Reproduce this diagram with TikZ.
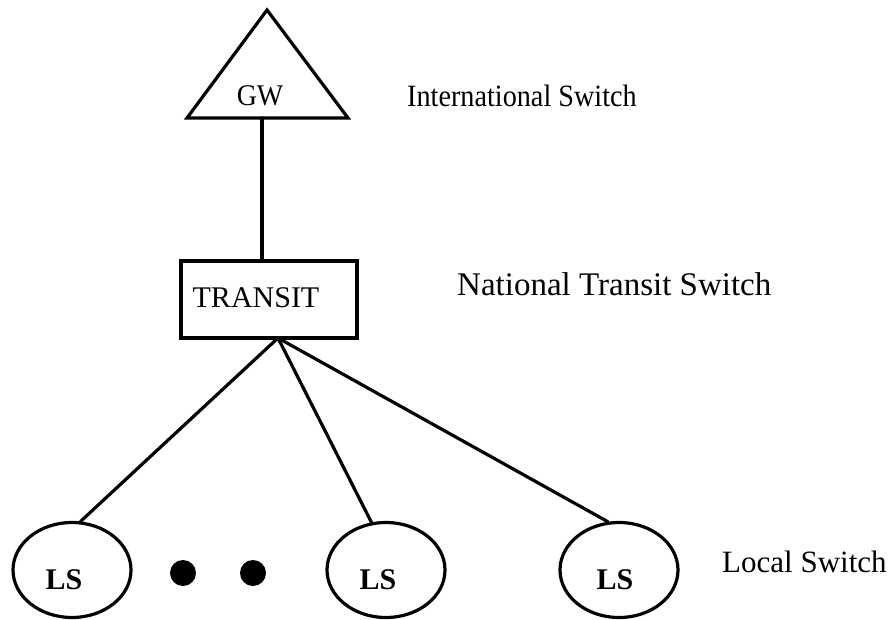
\documentclass[tikz,border=0pt]{standalone}
\usepackage{graphicx}
\usepackage{fontspec}
\setmainfont{Liberation Serif}
\usetikzlibrary{shapes.geometric,calc}
\begin{document}
\begin{tikzpicture}[x=1pt,y=-1pt,
  link/.style={line width=3.2pt,line cap=round},
  outline/.style={draw,line width=3.2pt},
  txt/.style={inner sep=0pt,font=\fontsize{30}{34}\selectfont},
  sidelabel/.style={txt,anchor=west},
  lstxt/.style={inner sep=0pt,font=\fontsize{30}{34}\selectfont\bfseries},
  switchbox/.style={outline,rectangle,minimum width=176pt,minimum height=77pt,inner sep=0pt},
  localsw/.style={outline,ellipse,minimum width=118pt,minimum height=95pt,inner sep=0pt},
  dotmark/.style={circle,fill=black,minimum size=26pt,inner sep=0pt}]
\useasboundingbox (0,0) rectangle (894,620);

% international gateway (triangle)
\coordinate (gwtop) at (267,10);
\coordinate (gwleft) at (187,118);
\coordinate (gwright) at (348,118);
\coordinate (gwbase) at (262,118);
\draw[line width=3.2pt,line join=miter] (gwtop) -- (gwleft) -- (gwright) -- cycle;
\node[txt,font=\fontsize{30}{34}\selectfont] (gw) at (260,96) {\scalebox{0.93}[1]{GW}};

% national transit switch
\node[switchbox] (transit) at (269,299.5) {};
\node[txt] (transittxt) at (256,298) {TRANSIT};
\coordinate (hub) at (278,338);

% local switches
\node[localsw] (ls1) at (72,570) {};
\node[localsw] (ls2) at (386,570) {};
\node[localsw] (ls3) at (619,570) {};
\node[lstxt] (ls1txt) at (64,580) {LS};
\node[lstxt] (ls2txt) at (378,580) {LS};
\node[lstxt] (ls3txt) at (615,580) {LS};
\node[dotmark] (dot1) at (183,573) {};
\node[dotmark] (dot2) at (253,573) {};

% connections
\draw[link] (gwbase) -- (gwbase |- transit.north);
\draw[link] (hub) -- (ls1.80);
\draw[link] (hub) -- (ls2.107);
\draw[link] (hub) -- (ls3.103);

% level labels
\node[sidelabel,font=\fontsize{31}{34}\selectfont] (intl) at (407,96) {\scalebox{0.91}[1]{International Switch}};
\node[sidelabel,font=\fontsize{33}{36}\selectfont] (natl) at (457,284) {National Transit Switch};
\node[sidelabel,font=\fontsize{31}{34}\selectfont] (local) at (722,562) {Local Switch};
\end{tikzpicture}
\end{document}
